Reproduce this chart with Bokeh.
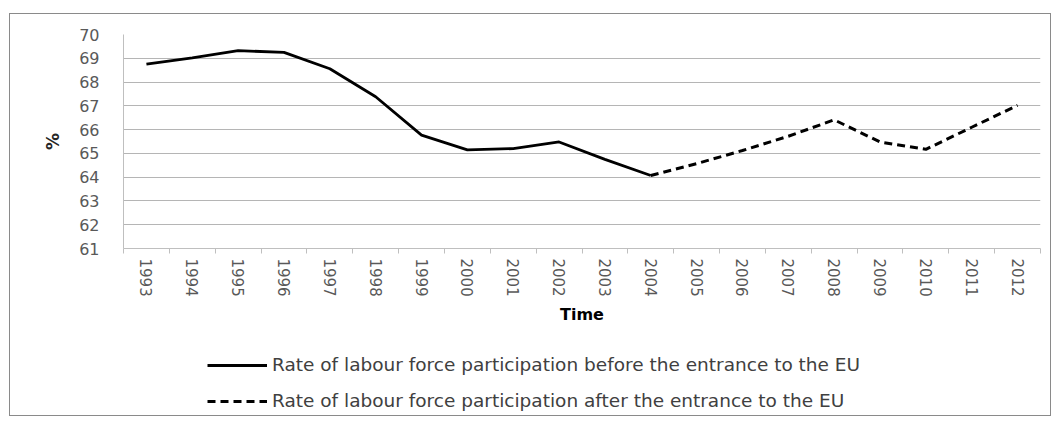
from bokeh.plotting import figure
from bokeh.layouts import column
from bokeh.models import (Range1d, FixedTicker, Legend, LegendItem)
from bokeh.embed import file_html
from bokeh.resources import INLINE

years_before = [1993, 1994, 1995, 1996, 1997, 1998, 1999, 2000, 2001, 2002, 2003, 2004]
rate_before = [68.75, 69.02, 69.32, 69.25, 68.56, 67.38, 65.77, 65.15, 65.2, 65.48, 64.75, 64.07]

years_after = [2004, 2005, 2006, 2007, 2008, 2009, 2010, 2011, 2012]
rate_after = [64.07, 64.57, 65.12, 65.72, 66.41, 65.48, 65.17, 66.1, 67.02]

years = list(range(1993, 2013))
y_ticks = [61, 62, 63, 64, 65, 66, 67, 68, 69, 70]

label_before = "Rate of labour force participation before the entrance to the EU"
label_after = "Rate of labour force participation after the entrance to the EU"

FONT = "DejaVu Sans"
SOLID = dict(line_color="black", line_width=2.8)
DASHED = dict(line_color="black", line_width=3, line_dash="8 5")

p = figure(width=1040, height=329, output_backend="svg", toolbar_location=None,
           x_range=Range1d(years[0] - 0.5, years[-1] + 0.5),
           y_range=Range1d(y_ticks[0], y_ticks[-1]),
           min_border_left=113, min_border_right=10, min_border_top=20, min_border_bottom=95)

p.outline_line_color = None
p.background_fill_color = "white"
p.border_fill_color = "white"

# grid
p.xgrid.grid_line_color = None
p.ygrid.grid_line_color = "#b5b5b5"
p.ygrid.grid_line_width = 1.2
p.ygrid.ticker = FixedTicker(ticks=y_ticks)

# y axis
p.yaxis.ticker = FixedTicker(ticks=y_ticks)
p.yaxis.axis_line_color = "#bfbfbf"
p.yaxis.major_tick_line_color = None
p.yaxis.minor_tick_line_color = None
p.yaxis.major_tick_out = 0
p.yaxis.major_label_standoff = 24
p.yaxis.major_label_text_font = FONT
p.yaxis.major_label_text_font_size = "16px"
p.yaxis.major_label_text_color = "#595959"
p.yaxis.axis_label = "%"
p.yaxis.axis_label_text_font = FONT
p.yaxis.axis_label_text_font_size = "17px"
p.yaxis.axis_label_text_font_style = "bold"
p.yaxis.axis_label_text_color = "#262626"
p.yaxis.axis_label_standoff = 13

# x axis
p.xaxis.ticker = FixedTicker(ticks=years,
                             minor_ticks=[y - 0.5 for y in years] + [years[-1] + 0.5])
p.xaxis.axis_line_color = "#bfbfbf"
p.xaxis.major_tick_line_color = None
p.xaxis.major_tick_out = 0
p.xaxis.major_tick_in = 0
p.xaxis.minor_tick_line_color = "#bfbfbf"
p.xaxis.minor_tick_out = 5
p.xaxis.minor_tick_in = 0
p.xaxis.major_label_orientation = "vertical"
p.xaxis.major_label_standoff = 5
p.xaxis.major_label_text_font = FONT
p.xaxis.major_label_text_font_size = "15px"
p.xaxis.major_label_text_color = "#595959"
p.xaxis.axis_label = "Time"
p.xaxis.axis_label_text_font = FONT
p.xaxis.axis_label_text_font_size = "16px"
p.xaxis.axis_label_text_font_style = "bold"
p.xaxis.axis_label_text_color = "#000000"
p.xaxis.axis_label_standoff = 5

p.line(years_before, rate_before, **SOLID)
p.line(years_after, rate_after, **DASHED)

# legend strip below the chart (series drawn off-view, only their legend glyphs show)
q = figure(width=1040, height=72, output_backend="svg", toolbar_location=None,
           x_range=Range1d(0, 1), y_range=Range1d(0, 1),
           x_axis_type=None, y_axis_type=None,
           min_border_left=0, min_border_right=0, min_border_top=0, min_border_bottom=0)
q.outline_line_color = None
q.xgrid.visible = False
q.ygrid.visible = False
k1 = q.line(years_before, rate_before, **SOLID)
k2 = q.line(years_after, rate_after, **DASHED)

legend = Legend(items=[LegendItem(label=label_before, renderers=[k1]),
                       LegendItem(label=label_after, renderers=[k2])],
                location=(84, 4), orientation="vertical",
                glyph_width=60, glyph_height=20, label_height=20, spacing=15,
                padding=0, margin=0, label_standoff=5,
                border_line_color=None, background_fill_alpha=0,
                label_text_font=FONT, label_text_font_size="18.5px",
                label_text_color="#404040")
q.add_layout(legend, "center")

layout = column(p, q, spacing=0,
                styles={"border": "1px solid #8a8a8a", "margin-top": "13px", "margin-left": "9px"})

open("out.html", "w").write(file_html(layout, INLINE))
